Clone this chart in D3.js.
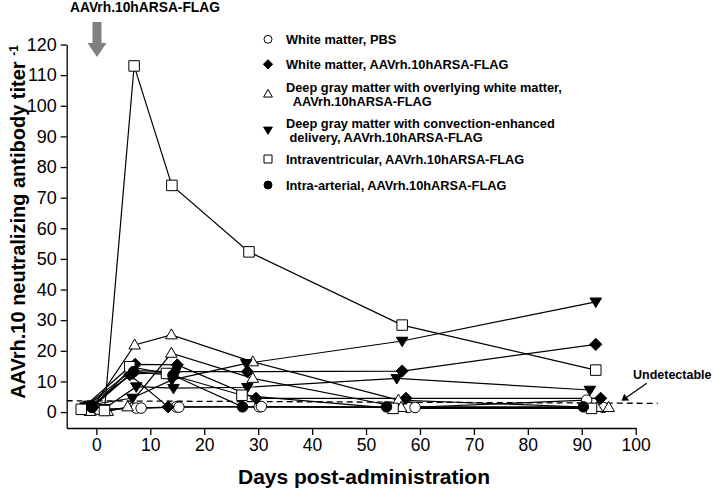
<!DOCTYPE html>
<html><head><meta charset="utf-8">
<script src="https://cdn.jsdelivr.net/npm/d3@7"></script>
<style>
body{margin:0;background:#fff}
svg{display:block}
text{font-family:Arial,"Liberation Sans",sans-serif;fill:#000}
</style>
</head><body>
<svg id="chart" width="714" height="491"></svg>
<script>
// ---------- data ----------
const xTickValues = [0,10,20,30,40,50,60,70,80,90,100];
const yTickValues = [0,10,20,30,40,50,60,70,80,90,100,110,120];
const seriesLabels = [
  ["White matter, PBS"],
  ["White matter, AAVrh.10hARSA-FLAG"],
  ["Deep gray matter with overlying white matter,", "  AAVrh.10hARSA-FLAG"],
  ["Deep gray matter with convection-enhanced", " delivery, AAVrh.10hARSA-FLAG"],
  ["Intraventricular, AAVrh.10hARSA-FLAG"],
  ["Intra-arterial, AAVrh.10hARSA-FLAG"]
];
const seriesShapes = ["circleOpen","diamond","triangleOpen","triangleDown","squareOpen","circleFilled"];

// each animal: [day, titer] pairs
const whiteMatterPBS = [
  [[-0.3,0.7],[7.4,1.3],[14.8,1.7],[30.2,1.7],[57.8,1.5],[90.9,3.9]],
  [[0.4,0.9],[8.3,1.3],[15.3,1.6],[30.6,1.8],[59.1,1.5],[94.0,1.5]]
];
const whiteMatterAAV = [
  [[-2.2,1.7],[6.6,13.5],[14.5,13.2],[28.0,13.2],[56.7,13.4],[92.6,22.1]],
  [[-0.6,1.7],[7.2,15.6],[15.0,15.4],[29.6,4.5],[57.4,4.5],[93.5,4.5]],
  [[-1.5,1.2],[6.2,12.2],[13.3,1.7]]
];
const deepGrayOverlying = [
  [[-1.2,0.2],[7.1,21.9],[13.9,25.2],[29.0,16.4],[56.0,3.9],[92.8,1.5]],
  [[2.1,0.2],[5.8,1.7],[13.9,19.2],[29.0,11.0],[56.5,1.5],[95.0,1.5]]
];
const deepGrayCED = [
  [[-1.2,2.3],[6.7,4.6],[14.0,10.5],[27.8,15.9],[56.7,23.2],[92.6,36.0]],
  [[1.5,1.2],[7.4,8.3],[14.3,7.8],[28.0,8.1],[55.7,11.0],[91.5,7.2]],
  [[-2.0,1.8],[6.8,12.5],[14.6,13.0]]
];
const intraventricular = [
  [[1.5,0.5],[7.0,113.0],[14.0,74.0],[28.3,52.3],[56.7,28.4],[92.6,13.7]],
  [[-2.8,0.9],[6.2,14.8],[13.0,12.6],[27.0,5.5],[55.0,1.2],[91.8,1.2]]
];
const intraArterial = [
  [[-0.8,1.5],[6.9,13.2],[14.2,12.0],[27.1,1.7],[53.8,1.7],[90.3,1.7]]
];
const undetectableLine = [[-5.5,3.7],[104.1,2.85]];

const groups = [whiteMatterPBS, whiteMatterAAV, deepGrayOverlying, deepGrayCED, intraventricular, intraArterial];

// ---------- drawing ----------
const svg = d3.select("#chart");
const x = d3.scaleLinear().domain([-5.5,100]).range([66.7,635.7]);
const y = d3.scaleLinear().domain([-5.2,120]).range([428,44.5]);

// axes
const gx = svg.append("g").attr("transform","translate(0,428)")
  .call(d3.axisBottom(x).tickValues(xTickValues).tickSize(7).tickSizeOuter(0).tickPadding(4));
gx.selectAll("text").style("font-size","17.5px").attr("font-family","Arial, Liberation Sans, sans-serif");
const gy = svg.append("g").attr("transform","translate(66.7,0)")
  .call(d3.axisLeft(y).tickValues(yTickValues).tickSize(6).tickSizeOuter(0).tickPadding(4));
gy.selectAll("text").style("font-size","18px").attr("font-family","Arial, Liberation Sans, sans-serif");
svg.selectAll(".domain, .tick line").attr("stroke","#000").attr("stroke-width",1.3);

// dashed undetectable line
svg.append("path").datum(undetectableLine)
  .attr("d", d3.line().x(d=>x(d[0])).y(d=>y(d[1])))
  .attr("fill","none").attr("stroke","#000").attr("stroke-width",1.3).attr("stroke-dasharray","6,4");

// lines
const line = d3.line().x(d=>x(d[0])).y(d=>y(d[1]));
groups.forEach(g => g.forEach(animal => {
  svg.append("path").datum(animal).attr("d", line)
    .attr("fill","none").attr("stroke","#000").attr("stroke-width",1.2);
}));

// marker shapes
function shapePath(type, s) {
  const p = d3.path();
  if (type.startsWith("circle")) { p.arc(0,0,s*0.5,0,2*Math.PI); }
  else if (type === "diamond") { const r=s*0.58; p.moveTo(0,-r); p.lineTo(r,0); p.lineTo(0,r); p.lineTo(-r,0); p.closePath(); }
  else if (type === "triangleOpen") { const w=s*0.55, h=s*0.95; p.moveTo(0,-h*0.6); p.lineTo(w,h*0.4); p.lineTo(-w,h*0.4); p.closePath(); }
  else if (type === "triangleDown") { const w=s*0.55, h=s*0.9; p.moveTo(-w,-h*0.4); p.lineTo(w,-h*0.4); p.lineTo(0,h*0.6); p.closePath(); }
  else if (type === "squareOpen") { const r=s*0.5; p.rect(-r,-r,2*r,2*r); }
  return p.toString();
}
function fillOf(type){ return (type.endsWith("Open")) ? "#fff" : "#000"; }

groups.forEach((g, gi) => {
  const type = seriesShapes[gi];
  g.forEach(animal => {
    svg.append("g").selectAll("path").data(animal).join("path")
      .attr("transform", d=>`translate(${x(d[0])},${y(d[1])})`)
      .attr("d", shapePath(type, 10.5))
      .attr("fill", fillOf(type)).attr("stroke","#000").attr("stroke-width",1);
  });
});

// legend
const legendY = [39.3, 64.3, 94, 130, 159, 185];
const lg = svg.append("g");
seriesLabels.forEach((lines, i) => {
  const cy = legendY[i];
  const type = seriesShapes[i];
  lg.append("path").attr("transform",`translate(268,${cy})`)
    .attr("d", shapePath(type, 8)).attr("fill", fillOf(type)).attr("stroke","#000").attr("stroke-width",1);
  const n = lines.length;
  lines.forEach((t, j) => {
    lg.append("text").attr("x",286).attr("y", cy + 4.5 + (j - (n-1)/2)*14)
      .attr("font-size","12.8px").attr("font-weight","bold").attr("xml:space","preserve")
      .style("white-space","pre").text(t);
  });
});

// top annotation + grey arrow
svg.append("text").attr("x",145).attr("y",12).attr("text-anchor","middle")
  .attr("font-size","13.8px").attr("font-weight","bold").text("AAVrh.10hARSA-FLAG");
svg.append("path").attr("d","M92.5,22 L101.5,22 L101.5,43 L106.5,43 L97,57 L87.5,43 L92.5,43 Z").attr("fill","#808080");

// undetectable label + arrow
svg.append("text").attr("x",633).attr("y",379).attr("font-size","12.5px").attr("font-weight","bold").text("Undetectable");
svg.append("line").attr("x1",646.7).attr("y1",383.3).attr("x2",626).attr("y2",397.8).attr("stroke","#000").attr("stroke-width",1.2);
svg.append("path").attr("d","M621.5,400.8 L624.2,393.8 L629.2,400.6 Z").attr("fill","#000");

// axis titles
svg.append("text").attr("x",364).attr("y",484).attr("text-anchor","middle")
  .attr("font-size","21px").attr("font-weight","bold").text("Days post-administration");
const yt = svg.append("text").attr("transform","translate(25,222) rotate(-90)").attr("text-anchor","middle")
  .attr("font-size","20px").attr("font-weight","bold");
yt.append("tspan").text("AAVrh.10 neutralizing antibody titer ");
yt.append("tspan").attr("dy",-7).attr("font-size","12px").text("-1");
</script>
</body></html>
